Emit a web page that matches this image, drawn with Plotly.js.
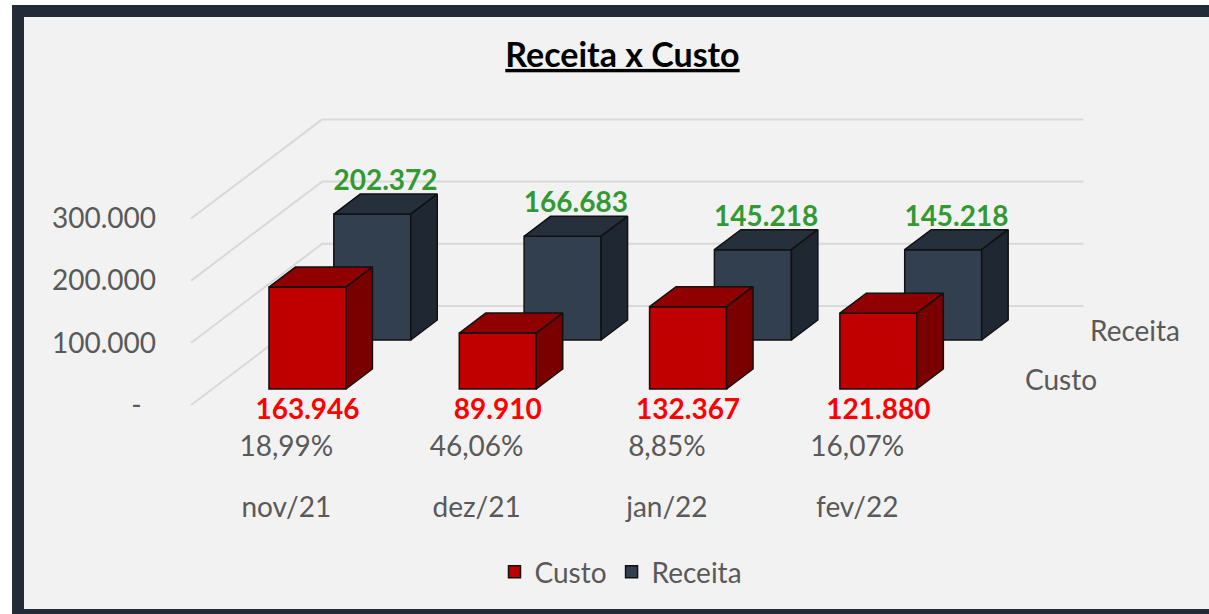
<!DOCTYPE html>
<html>
<head>
<meta charset="utf-8">
<script src="https://cdn.plot.ly/plotly-3.0.1.min.js"></script>
<style>
  html, body { margin: 0; padding: 0; background: #ffffff; }
  #chart { width: 1209px; height: 614px; }
</style>
</head>
<body>
<div id="chart"></div>
<script>
// ---------------- data ----------------
const categories = ['nov/21', 'dez/21', 'jan/22', 'fev/22'];
const custo = [163946, 89910, 132367, 121880];
const receita = [202372, 166683, 145218, 145218];
const margem = ['18,99%', '46,06%', '8,85%', '16,07%'];
const seriesNames = ['Custo', 'Receita'];
const yTickVals = [0, 100000, 200000, 300000];
const yTickText = ['-\u00a0\u00a0', '100.000', '200.000', '300.000'];

// ---------------- geometry (layout constants) ----------------
const W = 1209, H = 614;
const L = 157, B = 126;               // margins
const plotW = W - L, plotH = H - B;
const CAT_PX = 190.3;                 // px between categories
const CAT0_PX = 286.3;                // px of first category (front edge)
const Y0_PX = 405;                    // px of value 0 at the front edge
const PX_PER_UNIT = 62.2 / 100000;    // px per value unit
const DX = 131 / CAT_PX;              // full floor depth, x units
const DY = 99 / PX_PER_UNIT;          // full floor depth, y units
const HW = 38.5 / CAT_PX;             // half bar width
const LABEL_DROP = 9 / PX_PER_UNIT;   // gap below front bars for labels
const LABEL_LIFT = -3 / PX_PER_UNIT;  // gap above back bars for labels
const rows = {
  Custo:   {t0: 16 / 99, t1: 36 / 99, front: '#c00000', top: '#900000', side: '#7a0000', label: '#ff0000'},
  Receita: {t0: 65 / 99, t1: 85 / 99, front: '#323f4f', top: '#262f3c', side: '#1f2732', label: '#339933'}
};
const xRange = [(L - CAT0_PX) / CAT_PX, (W - CAT0_PX) / CAT_PX];
const yRange = [(Y0_PX - plotH) / PX_PER_UNIT, Y0_PX / PX_PER_UNIT];
const idx = categories.map((c, i) => i);
const font = 'Lato, "Open Sans", sans-serif';
const gray = '#595959';
const edge = {color: '#111111', width: 1.5};

function faces(values, r) {
  const top = {x: [], y: []}, side = {x: [], y: []};
  values.forEach((v, i) => {
    const xl = i - HW, xr = i + HW;
    const pT = [[xl + r.t0 * DX, v + r.t0 * DY], [xr + r.t0 * DX, v + r.t0 * DY],
                [xr + r.t1 * DX, v + r.t1 * DY], [xl + r.t1 * DX, v + r.t1 * DY]];
    const pS = [[xr + r.t0 * DX, v + r.t0 * DY], [xr + r.t1 * DX, v + r.t1 * DY],
                [xr + r.t1 * DX, r.t1 * DY], [xr + r.t0 * DX, r.t0 * DY]];
    [[pT, top], [pS, side]].forEach(([pts, acc]) => {
      pts.concat([pts[0]]).forEach(p => { acc.x.push(p[0]); acc.y.push(p[1]); });
      acc.x.push(null); acc.y.push(null);
    });
  });
  return {top, side};
}

function seriesTraces(name, values, rank) {
  const r = rows[name];
  const f = faces(values, r);
  const bar = {
    type: 'bar', name: name, legendrank: rank,
    x: idx.map(i => i + r.t0 * DX), y: values,
    base: values.map(() => r.t0 * DY),
    width: 2 * HW,
    marker: {color: r.front, line: edge},
    hoverinfo: 'skip'
  };
  const poly = (p, color) => ({
    type: 'scatter', mode: 'lines', x: p.x, y: p.y, fill: 'toself',
    fillcolor: color, line: edge, showlegend: false, hoverinfo: 'skip', connectgaps: false
  });
  return [bar, poly(f.top, r.top), poly(f.side, r.side)];
}

const traces = [].concat(
  seriesTraces('Receita', receita, 2),
  seriesTraces('Custo', custo, 1)
);

// value labels
const rR = rows.Receita, rC = rows.Custo;
traces.push({
  type: 'scatter', mode: 'text', showlegend: false, hoverinfo: 'skip', cliponaxis: false,
  x: idx.map(i => i + (rR.t0 + rR.t1) / 2 * DX),
  y: receita.map(v => v + rR.t1 * DY + LABEL_LIFT),
  customdata: receita, texttemplate: '%{customdata:,.0f}', textposition: 'top center',
  textfont: {family: font, size: 28, color: rR.label, weight: 'bold'}
});
traces.push({
  type: 'scatter', mode: 'text', showlegend: false, hoverinfo: 'skip', cliponaxis: false,
  xaxis: 'x2',
  x: idx.map(i => i + rC.t0 * DX),
  y: custo.map(() => rC.t0 * DY - LABEL_DROP),
  customdata: custo, texttemplate: '%{customdata:,.0f}', textposition: 'bottom center',
  textfont: {family: font, size: 28, color: rC.label, weight: 'bold'}
});

// gridlines (walls)
const shapes = [];
const xLeft = -0.5, xRight = categories.length - 0.5;
yTickVals.forEach(v => {
  shapes.push({type: 'line', xref: 'x', yref: 'y', layer: 'below',
    x0: xLeft, y0: v, x1: xLeft + DX, y1: v + DY, line: {color: '#d9d9d9', width: 2}});
  shapes.push({type: 'line', xref: 'x', yref: 'y', layer: 'below',
    x0: xLeft + DX, y0: v + DY, x1: xRight + DX, y1: v + DY, line: {color: '#d9d9d9', width: 2}});
});
// frame
const px2paperX = px => (px - L) / plotW;
const px2paperY = py => (plotH - py) / plotH;
shapes.unshift({type: 'rect', xref: 'paper', yref: 'paper', layer: 'below',
  x0: px2paperX(18), x1: px2paperX(1216), y0: px2paperY(615), y1: px2paperY(11),
  line: {color: '#232b38', width: 12}, fillcolor: '#f2f2f2'});

// depth (series) labels
const annotations = seriesNames.map(n => {
  const r = rows[n], tm = (r.t0 + r.t1) / 2;
  return {xref: 'x', yref: 'y', x: xRight + tm * DX, y: tm * DY, text: n,
    showarrow: false, xanchor: 'left', yanchor: 'middle', xshift: 36,
    font: {family: font, size: 28, color: gray}};
});

const axisCommon = {showgrid: false, zeroline: false, showline: false, ticks: '', fixedrange: true};
const layout = {
  width: W, height: H,
  margin: {l: L, r: 0, t: 0, b: B, pad: 0},
  paper_bgcolor: '#ffffff', plot_bgcolor: 'rgba(0,0,0,0)',
  separators: ',.',
  hovermode: false,
  barmode: 'overlay',
  showlegend: true,
  font: {family: font, color: gray},
  title: {text: 'Receita x Custo', xref: 'container', yref: 'container',
    x: 622.5 / W, y: 1 - 55 / H, xanchor: 'center', yanchor: 'middle',
    font: {family: font, size: 34, color: '#000000', weight: 'bold', lineposition: 'under'}},
  xaxis: Object.assign({}, axisCommon, {type: 'linear', range: xRange,
    tickvals: idx, ticktext: categories, tickfont: {family: font, size: 28, color: gray}}),
  xaxis2: Object.assign({}, axisCommon, {type: 'linear', range: xRange, overlaying: 'x',
    anchor: 'free', position: px2paperY(427), side: 'bottom',
    tickvals: idx, ticktext: margem, tickfont: {family: font, size: 28, color: gray}}),
  yaxis: Object.assign({}, axisCommon, {type: 'linear', range: yRange,
    tickvals: yTickVals, ticktext: yTickText, tickfont: {family: font, size: 28, color: gray}}),
  legend: {orientation: 'h', x: px2paperX(621), xanchor: 'center',
    y: px2paperY(572), yanchor: 'middle', bgcolor: 'rgba(0,0,0,0)',
    font: {family: font, size: 28, color: gray}},
  shapes: shapes,
  annotations: annotations
};

Plotly.newPlot('chart', traces, layout, {displayModeBar: false, staticPlot: true});
</script>
</body>
</html>
